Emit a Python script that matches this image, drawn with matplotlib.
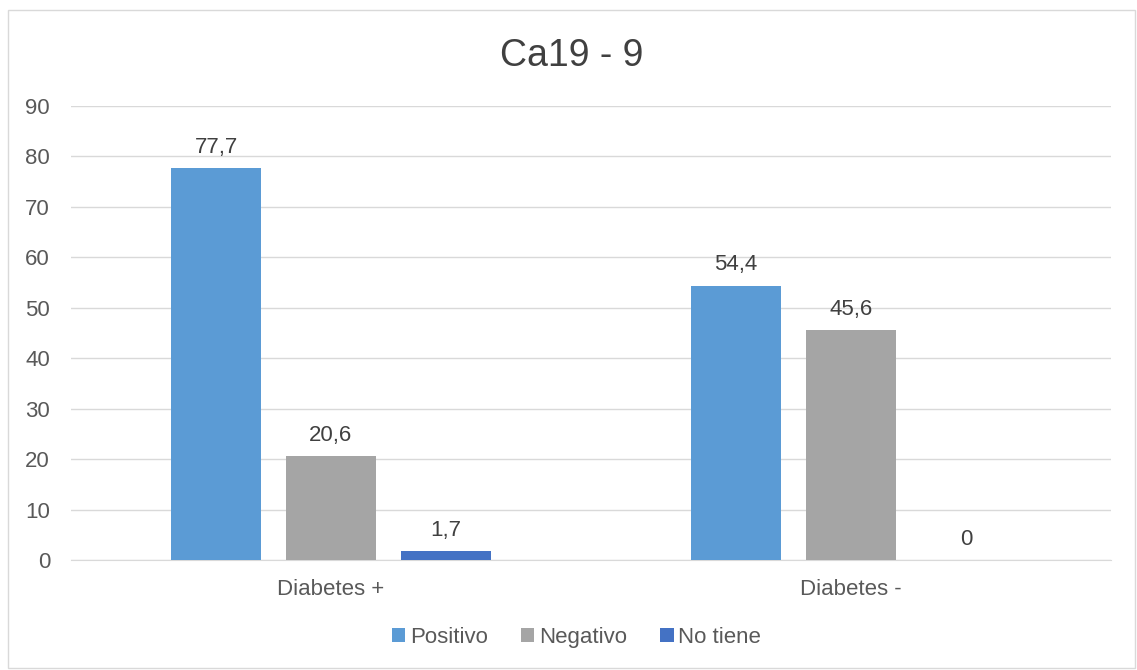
import matplotlib.pyplot as plt
import numpy as np
from matplotlib.patches import Rectangle

plt.rcParams['font.family'] = ['Liberation Sans', 'DejaVu Sans']

categories = ['Diabetes +', 'Diabetes -']
series = ['Positivo', 'Negativo', 'No tiene']
values = {
    'Positivo': [77.7, 54.4],
    'Negativo': [20.6, 45.6],
    'No tiene': [1.7, 0],
}
colors = {'Positivo': '#5B9BD5', 'Negativo': '#A5A5A5', 'No tiene': '#4472C4'}

def fmt(v):
    s = f"{v:g}"
    return s.replace('.', ',')

fig = plt.figure(figsize=(11.37, 6.70), dpi=100)
ax = fig.add_axes([0.0624, 0.1642, 0.9147, 0.6776])

x = np.arange(len(categories))
width = 0.173
step = 0.221
for i, name in enumerate(series):
    pos = x + (i - 1) * step
    bars = ax.bar(pos, values[name], width, color=colors[name], label=name, zorder=3)
    for b, v in zip(bars, values[name]):
        ax.annotate(fmt(v), (b.get_x() + b.get_width() / 2, v),
                    xytext=(0, 11), textcoords='offset points',
                    ha='center', va='baseline', fontsize=16, color='#404040')

ax.set_xlim(-0.5, 1.5)
ax.set_ylim(0, 90)
ax.set_yticks(range(0, 91, 10))
ax.set_xticks(x)
ax.set_xticklabels(categories)
ax.tick_params(axis='both', length=0, labelsize=16, labelcolor='#595959')
ax.tick_params(axis='x', pad=14)
ax.tick_params(axis='y', pad=15)
ax.grid(axis='y', color='#D9D9D9', linewidth=1, zorder=0)
for side in ['top', 'right', 'left']:
    ax.spines[side].set_visible(False)
ax.spines['bottom'].set_color('#D9D9D9')

fig.suptitle('Ca19 - 9', x=0.503, y=0.917, va='center', fontsize=27, color='#404040')

fig.legend(loc='center', bbox_to_anchor=(0.507, 0.049), ncol=3, frameon=False,
           fontsize=16, handlelength=0.6, handleheight=0.6, handletextpad=0.2,
           columnspacing=1.5, labelcolor='#595959')

fig.patches.append(Rectangle((0.007, 0.003), 0.991, 0.982, transform=fig.transFigure,
                             fill=False, edgecolor='#D9D9D9', linewidth=1))

fig.savefig('out.png', dpi=100)
